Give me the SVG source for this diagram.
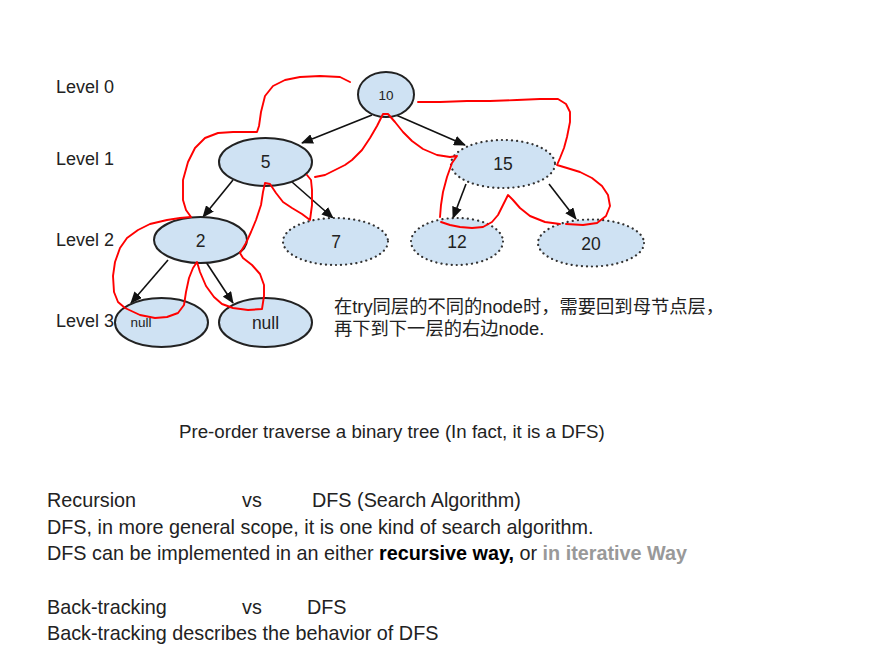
<svg xmlns="http://www.w3.org/2000/svg" width="879" height="665" viewBox="0 0 879 665">
<defs>
<marker id="ah" markerUnits="userSpaceOnUse" markerWidth="12" markerHeight="10" refX="11" refY="5" orient="auto">
<path d="M0,0 L12,5 L0,10 z" fill="#111"/>
</marker>
<style>
.t{font-family:"Liberation Sans",Arial,"Noto Sans CJK SC",sans-serif;fill:#222}
.n{fill:#cfe2f3;stroke:#222;stroke-width:2}
.d{fill:#cfe2f3;stroke:#333;stroke-width:2.2;stroke-dasharray:0.1 5;stroke-linecap:round}
.e{stroke:#111;stroke-width:1.6;fill:none;marker-end:url(#ah)}
.r{stroke:#ff0000;stroke-width:1.9;fill:none;stroke-linejoin:round;stroke-linecap:round}
.lbl{font-size:18px}
.nt{font-size:17.5px;text-anchor:middle}
.b{font-size:19.8px}
</style>
</defs>
<rect width="879" height="665" fill="#fff"/>

<g id="levels">
<text class="t lbl" x="56" y="93">Level 0</text>
<text class="t lbl" x="56" y="165">Level 1</text>
<text class="t lbl" x="56" y="246">Level 2</text>
<text class="t lbl" x="56" y="327">Level 3</text>
</g>

<g id="connectors">
<line class="e" x1="372" y1="115" x2="302" y2="143"/>
<line class="e" x1="396" y1="115" x2="465" y2="145"/>
<line class="e" x1="233" y1="180" x2="203" y2="217"/>
<line class="e" x1="292" y1="182" x2="333" y2="218"/>
<line class="e" x1="466" y1="184" x2="453" y2="218"/>
<line class="e" x1="549" y1="184" x2="576" y2="219"/>
<line class="e" x1="168" y1="260" x2="131" y2="303"/>
<line class="e" x1="206" y1="262" x2="233" y2="303"/>
</g>

<g id="node-10"><ellipse class="n" cx="386" cy="94.5" rx="28" ry="22.5"/><text class="t" x="386" y="99.5" font-size="13.5" text-anchor="middle">10</text></g>
<g id="node-5"><ellipse class="n" cx="265.5" cy="162" rx="46.5" ry="24"/><text class="t nt" x="265.5" y="168">5</text></g>
<g id="node-15"><ellipse class="d" cx="503" cy="164" rx="52" ry="24"/><text class="t nt" x="503" y="170">15</text></g>
<g id="node-2"><ellipse class="n" cx="200.5" cy="240" rx="46.5" ry="23"/><text class="t nt" x="200.5" y="247">2</text></g>
<g id="node-7"><ellipse class="d" cx="335.5" cy="241.5" rx="52.5" ry="23.5"/><text class="t nt" x="336" y="248">7</text></g>
<g id="node-12"><ellipse class="d" cx="457" cy="241.5" rx="46" ry="23.5"/><text class="t nt" x="457" y="248">12</text></g>
<g id="node-20"><ellipse class="d" cx="591" cy="243" rx="53" ry="23.5"/><text class="t nt" x="591" y="250">20</text></g>
<g id="node-null-left"><ellipse class="n" cx="161.5" cy="322.5" rx="46.5" ry="24.5"/><text class="t" x="141" y="327" font-size="13.5" text-anchor="middle">null</text></g>
<g id="node-null-right"><ellipse class="n" cx="265.5" cy="322.5" rx="46.5" ry="24.5"/><text class="t" x="265.5" y="329" font-size="17.5" text-anchor="middle">null</text></g>

<g id="traversal">
<path class="r" d="M350,82 L340,77 L320,76 L300,77 L285,80 L273,86 L265,96 L261,112 L259,126 L257,132 L245,132 L233,132 L218,133 L205,138 L195,148 L188,162 L183,180 L183,200 L186,210 L191,217 L180,218 L167,220 L150,224 L138,230 L127,238 L120,248 L115,262 L113,276 L114,292 L118,302 L125,308 L140,315 L155,318 L167,317 L178,313 L184,305 L186,292 L189,278 L193,268 L197,262 L200,272 L206,286 L214,297 L222,304 L233,308 L248,310 L262,309 L264,296 L264,285 L260,274 L252,265 L243,258 L240,253 L246,243 L251,232 L256,220 L261,205 L263,192 L265,183 L270,184 L276,193 L283,202 L292,208 L302,214 L310,220 L312,205 L312,190 L311,180 L307,175"/>
<path class="r" d="M315,177 L325,175 L335,170 L345,165 L352,160 L362,150 L370,138 L377,126 L383,114 L388,114 L395,122 L403,132 L412,141 L423,149 L437,155 L450,157 L457,156 L452,163 L447,177 L443,192 L441,205 L440,217"/>
<path class="r" d="M441,222 L450,225 L460,227 L472,228 L483,227 L492,222 L498,215 L503,205 L508,195 L513,200 L520,208 L530,216 L545,222 L560,224"/>
<path class="r" d="M566,224 L583,225 L597,223 L606,216 L610,206 L608,195 L602,186 L592,178 L580,172 L567,168 L557,165 L560,158 L564,148 L567,137 L570,122 L570,112 L566,104 L558,99 L540,99 L517,100 L490,101 L467,101 L440,102 L418,102"/>
</g>

<g id="note">
<text class="t" x="334" y="313" font-size="18.3">在try同层的不同的node时，需要回到母节点层，</text>
<text class="t" x="334" y="335" font-size="18.3">再下到下一层的右边node.</text>
</g>

<text class="t" x="179" y="438" font-size="18.7">Pre-order traverse a binary tree (In fact, it is a DFS)</text>

<g id="body">
<text class="t b" x="47" y="507">Recursion</text>
<text class="t b" x="242" y="507">vs</text>
<text class="t b" x="312" y="507">DFS (Search Algorithm)</text>
<text class="t b" x="47" y="534">DFS, in more general scope, it is one kind of search algorithm.</text>
<text class="t b" x="47" y="560">DFS can be implemented in an either <tspan font-weight="bold" fill="#000">recursive way,</tspan> or <tspan font-weight="bold" fill="#999">in iterative Way</tspan></text>
<text class="t b" x="47" y="614">Back-tracking</text>
<text class="t b" x="242" y="614">vs</text>
<text class="t b" x="307" y="614">DFS</text>
<text class="t b" x="47" y="640">Back-tracking describes the behavior of DFS</text>
</g>
</svg>
